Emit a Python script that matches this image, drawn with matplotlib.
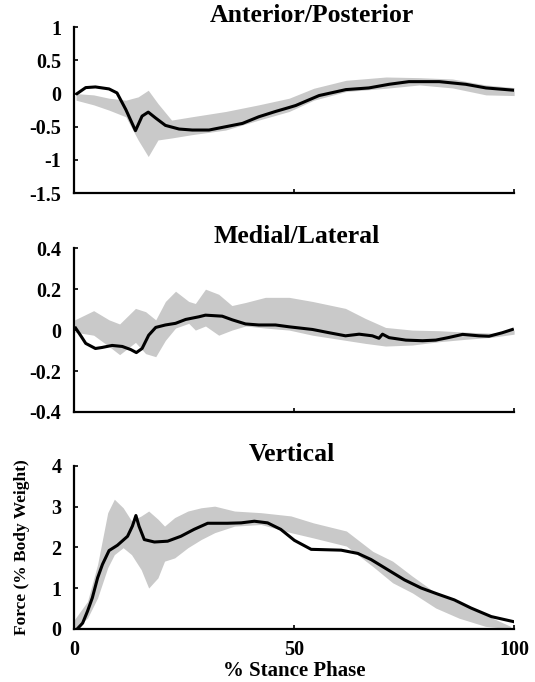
import matplotlib
matplotlib.use("Agg")
import matplotlib.pyplot as plt

plt.rcParams['font.family'] = ['Liberation Serif', 'DejaVu Serif']
plt.rcParams['font.weight'] = 'bold'

# anterior/posterior mean curve
ap_x = [0.75, 2.7, 4.9, 8.0, 9.8, 11.8, 14.0, 15.5, 16.9, 18.6, 20.8, 23.9, 26.9, 30.7,
        34.5, 38.3, 42.0, 45.8, 48.9, 50.4, 55.7, 61.8, 67.0, 71.6, 76.1, 83.0, 89.0,
        93.6, 100]
ap_y = [0.0, 0.09, 0.10, 0.07, 0.01, -0.24, -0.56, -0.34, -0.28, -0.37, -0.48, -0.535,
        -0.55, -0.55, -0.5, -0.45, -0.35, -0.27, -0.21, -0.18, -0.03, 0.06, 0.085, 0.14,
        0.18, 0.18, 0.14, 0.085, 0.05]
# anterior/posterior band
ap_bx = [0.5, 4.5, 8.0, 11.8, 14.6, 16.9, 19.1, 22.2, 26.8, 34.5, 42.0, 48.9, 54.5, 61.8,
         70.9, 78.5, 86.0, 93.6, 100]
ap_hi = [0.0, -0.02, -0.07, -0.1, -0.05, 0.05, -0.15, -0.4, -0.35, -0.27, -0.17, -0.07,
         0.08, 0.2, 0.25, 0.24, 0.22, 0.13, 0.09]
ap_lo = [-0.1, -0.17, -0.25, -0.35, -0.7, -0.95, -0.7, -0.67, -0.62, -0.55, -0.4, -0.27,
         -0.1, 0.03, 0.08, 0.13, 0.085, -0.02, -0.03]

# medial/lateral mean curve
ml_x = [0.4, 1.5, 2.7, 4.9, 6.4, 8.7, 11.0, 12.9, 14.2, 15.5, 17.0, 18.6, 20.8, 23.1,
        25.4, 28.4, 29.9, 33.7, 36.0, 39.0, 42.0, 45.8, 48.9, 54.2, 58.0, 61.7, 64.8,
        67.8, 69.3, 70.1, 71.6, 75.4, 79.2, 82.2, 85.2, 88.3, 92.0, 94.3, 97.3, 99.6]
ml_y = [0.01, -0.025, -0.065, -0.09, -0.085, -0.075, -0.08, -0.095, -0.11, -0.09,
        -0.025, 0.013, 0.025, 0.033, 0.052, 0.065, 0.073, 0.068, 0.05, 0.03, 0.025,
        0.025, 0.016, 0.003, -0.013, -0.028, -0.02, -0.028, -0.04, -0.02, -0.037,
        -0.049, -0.052, -0.049, -0.036, -0.021, -0.028, -0.03, -0.013, 0.003]
# medial/lateral band
ml_bx = [0.2, 4.5, 8.0, 10.4, 14.0, 16.3, 18.6, 20.8, 23.1, 26.1, 27.6, 29.9, 32.9, 35.9,
         39.0, 43.5, 48.9, 54.2, 61.7, 66.2, 70.8, 76.9, 82.9, 89.0, 95.0, 100]
ml_hi = [0.05, 0.095, 0.05, 0.03, 0.106, 0.09, 0.05, 0.14, 0.19, 0.14, 0.13, 0.2, 0.175,
         0.12, 0.135, 0.16, 0.16, 0.14, 0.106, 0.057, 0.013, 0.0, -0.003, -0.01, -0.015,
         0.0]
ml_lo = [-0.01, -0.025, -0.08, -0.12, -0.06, -0.115, -0.13, -0.05, 0.01, 0.033, 0.0, 0.02,
         -0.025, 0.0, 0.02, 0.01, 0.0, -0.025, -0.05, -0.065, -0.078, -0.073, -0.057,
         -0.045, -0.035, -0.02]

# vertical mean curve
v_x = [0.8, 2.0, 3.1, 4.2, 5.4, 6.5, 8.0, 9.9, 12.2, 13.3, 14.1, 14.8, 16.0, 18.3, 21.3,
       24.3, 27.3, 30.4, 34.9, 38.0, 41.0, 44.0, 47.0, 50.1, 53.9, 60.7, 64.5, 67.5, 71.3,
       75.1, 78.9, 82.7, 86.4, 90.2, 94.8, 99.7]
v_y = [0.0, 0.14, 0.43, 0.76, 1.25, 1.58, 1.92, 2.05, 2.27, 2.52, 2.78, 2.52, 2.19, 2.13,
       2.15, 2.27, 2.44, 2.59, 2.59, 2.6, 2.64, 2.6, 2.44, 2.17, 1.95, 1.93, 1.85, 1.7,
       1.45, 1.2, 1.0, 0.85, 0.71, 0.51, 0.30, 0.18]
# vertical band
v_bx = [0.1, 3.1, 5.4, 7.7, 9.2, 11.2, 13.1, 15.3, 17.0, 19.1, 20.6, 22.9, 25.9, 28.9,
        32.0, 36.5, 42.5, 49.3, 54.4, 61.9, 67.9, 72.4, 76.9, 82.2, 87.5, 93.5, 99.2]
v_hi = [0.22, 0.67, 1.58, 2.85, 3.18, 2.97, 2.65, 2.77, 2.89, 2.69, 2.52, 2.73, 2.89, 2.97,
        3.01, 2.89, 2.85, 2.77, 2.6, 2.4, 1.9, 1.66, 1.29, 0.88, 0.63, 0.34, 0.06]
v_lo = [0.0, 0.26, 0.76, 1.5, 1.82, 1.99, 1.82, 1.45, 1.0, 1.25, 1.66, 1.74, 1.99, 2.19,
        2.36, 2.52, 2.56, 2.36, 2.23, 2.03, 1.53, 1.13, 0.88, 0.51, 0.26, 0.06, 0.0]

titles = ["Anterior/Posterior", "Medial/Lateral", "Vertical"]
title_x = [0.54, 0.505, 0.495]
ylims = [(-1.5, 1), (-0.4, 0.4), (0, 4)]
yticks = [[-1.5, -1, -0.5, 0, 0.5, 1],
          [-0.4, -0.2, 0, 0.2, 0.4],
          [0, 1, 2, 3, 4]]
ylabs = [["-1.5", "-1", "-0.5", "0", "0.5", "1"],
         ["-0.4", "-0.2", "0", "0.2", "0.4"],
         ["0", "1", "2", "3", "4"]]

fig = plt.figure(figsize=(5.35, 6.82), dpi=100)
boxes = [[0.138, 0.717, 0.823, 0.243],
         [0.138, 0.396, 0.823, 0.240],
         [0.138, 0.078, 0.823, 0.239]]
data = [(ap_x, ap_y, ap_bx, ap_hi, ap_lo),
        (ml_x, ml_y, ml_bx, ml_hi, ml_lo),
        (v_x, v_y, v_bx, v_hi, v_lo)]

for i in range(3):
    ax = fig.add_axes(boxes[i])
    mx, my, bx, hi, lo = data[i]
    ax.fill_between(bx, lo, hi, color='#c9c9c9', linewidth=0)
    ax.plot(mx, my, color='black', linewidth=2.2)
    ax.set_xlim(0, 100)
    ax.set_ylim(*ylims[i])
    ax.set_yticks(yticks[i])
    ax.set_yticklabels(ylabs[i], fontsize=14.5, fontweight='bold')
    ax.set_xticks([0, 50, 100])
    for s in ['top', 'right']:
        ax.spines[s].set_visible(False)
    for s in ['left', 'bottom']:
        ax.spines[s].set_linewidth(1.6)
    ax.tick_params(direction='in', length=3, width=1.2)
    ax.tick_params(axis='y', pad=9)
    ax.tick_params(axis='x', pad=8)
    ax.set_title(titles[i], fontsize=18.5, fontweight='bold', x=title_x[i], pad=3)
    if i < 2:
        ax.set_xticklabels([])
    else:
        ax.set_xticklabels(["0", "50", "100"], fontsize=14.5, fontweight='bold')
        ax.set_xlabel("% Stance Phase", fontsize=15, fontweight='bold', labelpad=1)
        ax.set_ylabel("Force (% Body Weight)", fontsize=12.5, fontweight='bold', labelpad=15)

fig.savefig("out.png", dpi=100)
